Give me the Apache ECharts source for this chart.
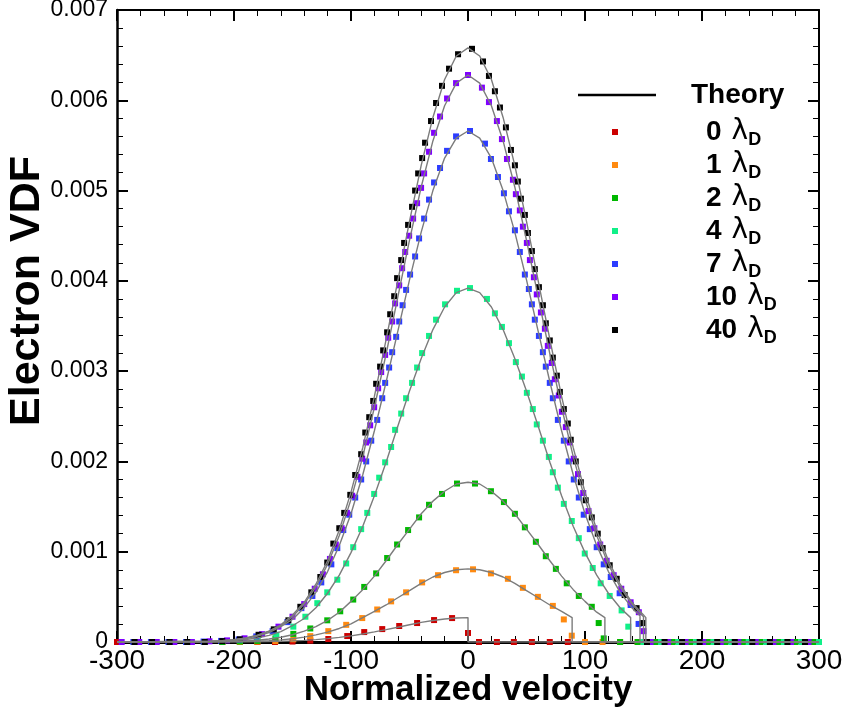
<!DOCTYPE html>
<html><head><meta charset="utf-8">
<script src="https://cdn.jsdelivr.net/npm/echarts/dist/echarts.min.js"></script>
<style>html,body{margin:0;padding:0;background:#fff}#c{width:846px;height:714px}</style>
</head><body><div id="c"></div>
<script>
// values in units of 1e-3 (converted when building the series)
const UNIT = 1e-3;
const seriesNames = ['0', '1', '2', '4', '7', '10', '40'];
const seriesColors = ['#cc0000', '#ff8a10', '#00b800', '#10f088', '#2c3cff', '#8000ff', '#000000'];

// theory curves: velocity grid and values (e-3)
const theoryV = [-220,-210,-200,-190,-180,-170,-160,-150,-140,-130,-120,-110,-100,-90,-80,-70,-60,-50,-40,-30,-20,-10,0,10,20,30,40,50,60,70,80,90,100,110,120,130,140,150];
const theory0  = [0.0003,0.0006,0.001,0.002,0.003,0.005,0.008,0.012,0.018,0.026,0.037,0.051,0.068,0.088,0.112,0.137,0.164,0.191,0.217,0.238,0.255,0.266,0.27];
const theory1  = [0.001,0.002,0.003,0.006,0.009,0.015,0.024,0.036,0.054,0.079,0.11,0.15,0.20,0.27,0.34,0.41,0.49,0.57,0.65,0.72,0.77,0.80,0.81,0.80,0.77,0.72,0.65,0.57,0.49,0.41,0.34];
const theory2  = [0.002,0.004,0.007,0.012,0.020,0.033,0.052,0.08,0.12,0.17,0.24,0.33,0.45,0.58,0.73,0.90,1.08,1.25,1.42,1.56,1.67,1.75,1.77,1.75,1.67,1.56,1.42,1.25,1.08,0.90,0.73,0.58,0.45,0.33];
const theory4  = [0.005,0.009,0.016,0.027,0.045,0.073,0.115,0.18,0.26,0.38,0.54,0.74,0.99,1.28,1.62,1.99,2.39,2.78,3.14,3.46,3.71,3.87,3.92,3.87,3.71,3.46,3.14,2.78,2.39,1.99,1.62,1.28,0.99,0.74,0.54,0.38];
const theory7  = [0.007,0.013,0.023,0.039,0.065,0.105,0.17,0.25,0.38,0.55,0.78,1.07,1.42,1.85,2.34,2.88,3.44,4.01,4.54,5.00,5.36,5.58,5.66,5.58,5.36,5.00,4.54,4.01,3.44,2.88,2.34,1.85,1.42,1.07,0.78,0.55,0.38];
const theory10 = [0.008,0.014,0.025,0.043,0.072,0.12,0.18,0.28,0.42,0.61,0.86,1.18,1.58,2.05,2.60,3.19,3.82,4.45,5.04,5.55,5.94,6.19,6.28,6.19,5.94,5.55,5.04,4.45,3.82,3.19,2.60,2.05,1.58,1.18,0.86,0.61,0.42,0.28];
const theory40 = [0.008,0.015,0.026,0.045,0.075,0.12,0.19,0.30,0.44,0.64,0.90,1.24,1.66,2.15,2.72,3.35,4.00,4.66,5.28,5.81,6.23,6.49,6.58,6.49,6.23,5.81,5.28,4.66,4.00,3.35,2.72,2.15,1.66,1.24,0.90,0.64,0.44,0.30];
const cutV = [0, 89, 117, 139, 147, 150, 152];
const cutF = [0.27, 0.27, 0.27, 0.27, 0.29, 0.28, 0.27];

// simulation markers [velocity, VDF e-3]
const sim0 = [[-300,0],[-285,0],[-270,0],[-255,0],[-240,0],[-225,0],[-210,0],[-195,0],[-180,0],[-165,0],[-150,0.005],[-134.8,0.015],[-119.4,0.033],[-103.2,0.066],[-88.7,0.11],[-73.3,0.143],[-58.8,0.177],[-43.5,0.21],[-29,0.243],[-13.6,0.265],[0,0.10],[9.4,0],[24.7,0],[39.2,0],[54.6,0],[69.9,0],[85.3,0]];
const sim1 = [[-285,0],[-270,0],[-255,0],[-240,0],[-225,0],[-210,0],[-195,0],[-180,0.003],[-164.6,0.01],[-149.3,0.03],[-134.8,0.065],[-119.4,0.12],[-104.1,0.19],[-90.4,0.265],[-77.6,0.36],[-65.7,0.45],[-52.9,0.55],[-39.2,0.66],[-25.6,0.74],[-10.2,0.795],[4.3,0.805],[19.6,0.76],[34.1,0.70],[46.9,0.60],[59.7,0.50],[72.5,0.40],[81.9,0.25],[88.7,0.07],[100,0],[115,0],[130,0],[145,0]];
const sim2 = [[-285,0],[-270,0],[-255,0],[-240,0],[-225,0],[-210,0],[-195,0.005],[-180,0.012],[-164.6,0.04],[-149.3,0.09],[-134.8,0.15],[-120.3,0.24],[-109.2,0.34],[-98.1,0.47],[-88.7,0.61],[-78.5,0.76],[-69.1,0.93],[-60.6,1.08],[-51.2,1.24],[-41.8,1.38],[-33.3,1.52],[-22.2,1.64],[-9.4,1.755],[6,1.755],[19.6,1.67],[30.7,1.55],[40.1,1.42],[48.6,1.27],[58,1.11],[66.5,0.95],[75.1,0.81],[84.4,0.65],[94.7,0.51],[105.8,0.39],[111.7,0.21],[116,0.04],[130,0],[145,0],[160,0],[175,0],[190,0],[205,0],[220,0],[235,0],[250,0],[265,0],[280,0],[295,0]];
const sim4 = [[-285,0],[-270,0],[-255,0],[-240,0],[-225,0],[-210,0.01],[-195,0.02],[-180,0.04],[-163.8,0.08],[-149.3,0.17],[-139,0.28],[-128.8,0.43],[-120.3,0.55],[-111.7,0.69],[-104.1,0.87],[-98.1,1.05],[-91.3,1.25],[-86.1,1.43],[-80.2,1.64],[-75.9,1.82],[-70.8,1.99],[-65.7,2.16],[-62.3,2.35],[-57.1,2.53],[-52.9,2.70],[-47.8,2.87],[-43.5,3.04],[-39.2,3.20],[-33.3,3.39],[-27.3,3.57],[-19.6,3.74],[-9.4,3.89],[1.7,3.92],[16.2,3.80],[23,3.64],[29,3.49],[35,3.31],[40.9,3.10],[46.1,2.94],[50.3,2.76],[55.4,2.58],[58.8,2.41],[64,2.23],[69.1,2.05],[72.5,1.88],[76.8,1.71],[81.9,1.53],[88.7,1.34],[94.7,1.15],[99.8,0.98],[106.6,0.82],[113.4,0.65],[121.1,0.51],[131.3,0.35],[137,0.17],[150,0],[165,0],[180,0],[195,0],[210,0],[225,0],[240,0],[255,0],[270,0],[285,0],[300,0]];
const sim7 = [[-286,0],[-271,0],[-256,0],[-241,0],[-226,0.005],[-211,0.012],[-196,0.028],[-181,0.062],[-167,0.12],[-154.4,0.22],[-142.4,0.375],[-133,0.51],[-125.4,0.66],[-116.8,0.86],[-111.7,1.04],[-106.6,1.24],[-101.5,1.41],[-96.4,1.60],[-91.3,1.80],[-87,2.00],[-82.7,2.23],[-77.6,2.46],[-73.3,2.70],[-70.8,2.87],[-67.4,3.04],[-64.8,3.21],[-61.4,3.38],[-58.8,3.55],[-55.9,3.73],[-52.9,3.90],[-49.5,4.07],[-45.2,4.27],[-41.8,4.47],[-37.5,4.69],[-33.3,4.90],[-29,5.09],[-23.9,5.25],[-17.9,5.44],[-10.2,5.60],[1.7,5.66],[14.5,5.52],[19.6,5.35],[25.6,5.15],[30.7,4.97],[35,4.77],[40.1,4.56],[44.3,4.32],[48.6,4.07],[52,3.91],[54.6,3.74],[57.1,3.57],[60.6,3.39],[64,3.21],[66.5,3.05],[69.9,2.87],[72.5,2.70],[76.8,2.46],[81.9,2.23],[86.1,2.00],[90.4,1.80],[94.7,1.60],[98.9,1.41],[104.1,1.25],[110,1.05],[116,0.86],[122,0.72],[129.6,0.54],[139,0.41],[145.8,0.20],[155,0],[170,0],[185,0],[200,0],[215,0],[230,0],[245,0],[260,0],[275,0],[290,0]];
const sim10 = [[-296,0],[-281,0],[-266,0],[-251,0],[-236,0],[-221,0.008],[-206,0.018],[-191,0.041],[-176,0.087],[-162,0.17],[-150,0.28],[-140,0.42],[-131,0.59],[-124,0.75],[-118,0.92],[-113,1.08],[-108,1.26],[-103.5,1.43],[-99,1.62],[-94.5,1.83],[-90.4,2.03],[-87,2.21],[-83.6,2.40],[-80.2,2.60],[-76.8,2.81],[-74.2,2.99],[-70.8,3.18],[-68.2,3.37],[-64.8,3.55],[-62.3,3.75],[-58.8,3.95],[-56.3,4.14],[-53.7,4.32],[-50.3,4.50],[-46.9,4.69],[-43.5,4.86],[-40.1,5.03],[-37.5,5.19],[-33.3,5.43],[-29,5.64],[-23.9,5.82],[-17.9,6.02],[-10.2,6.19],[0,6.28],[11.9,6.14],[17.9,5.98],[24.7,5.77],[29,5.57],[33.3,5.35],[38.4,5.12],[40.9,4.96],[44.3,4.78],[46.9,4.60],[50.3,4.42],[52.9,4.23],[56.3,4.04],[58.8,3.85],[62.3,3.65],[65.7,3.47],[68.2,3.28],[71.6,3.09],[74.2,2.91],[77.6,2.73],[80.2,2.55],[83.6,2.38],[87,2.21],[90.4,2.03],[94,1.86],[98.5,1.65],[103,1.45],[108,1.26],[113,1.08],[118.5,0.90],[124.5,0.74],[131,0.59],[139,0.44],[146,0.33],[150,0.12],[156,0],[171,0],[186,0],[201,0],[216,0],[231,0],[246,0],[261,0],[276,0],[291,0]];
const sim40 = [[-285,0],[-270,0],[-255,0],[-240,0],[-225,0],[-210,0.01],[-195,0.03],[-179,0.08],[-166,0.14],[-153.5,0.24],[-143.3,0.39],[-133.9,0.55],[-126.2,0.72],[-120.3,0.88],[-115.1,1.09],[-110,1.26],[-105.8,1.43],[-100.6,1.63],[-96.4,1.85],[-91.3,2.08],[-87.8,2.32],[-84.4,2.49],[-81,2.67],[-78.5,2.86],[-75.1,3.05],[-72.5,3.23],[-69.1,3.43],[-66.5,3.63],[-63.1,3.83],[-60.6,4.03],[-57.1,4.23],[-54.6,4.42],[-51.2,4.62],[-47.8,4.82],[-45.2,5.00],[-42.6,5.19],[-39.2,5.36],[-36.7,5.53],[-31.6,5.77],[-27.3,5.97],[-22.2,6.16],[-16.2,6.35],[-8.5,6.51],[3.4,6.57],[12.8,6.43],[17.9,6.27],[23,6.10],[27.3,5.92],[32.4,5.70],[36.7,5.45],[40.1,5.28],[42.6,5.10],[45.2,4.91],[48.6,4.73],[51.2,4.53],[54.6,4.33],[57.1,4.13],[60.6,3.93],[64,3.73],[66.5,3.53],[69.9,3.34],[72.5,3.15],[75.9,2.95],[78.5,2.77],[81.9,2.58],[85.3,2.42],[87.8,2.24],[92.1,2.00],[96.4,1.77],[100.6,1.57],[105.8,1.38],[110.9,1.20],[115.1,1.04],[121.1,0.85],[127.1,0.70],[133.9,0.52],[144.1,0.375],[149.3,0.21],[153,0],[168,0],[183,0],[198,0],[213,0],[228,0],[243,0],[258,0],[273,0],[288,0]];

const theories = [theory0, theory1, theory2, theory4, theory7, theory10, theory40];
const sims = [sim0, sim1, sim2, sim4, sim7, sim10, sim40];

// axis ranges and tick steps
const xMin = -300, xMax = 300, xStep = 100;
const yMin = 0, yMax = 0.007, yStep = 0.001;

const FONT = '"Liberation Sans", Arial, Helvetica, sans-serif';

function theoryData(vals, cut, fc) {
  const d = [[xMin, 0]];
  vals.forEach((f, i) => d.push([theoryV[i], f * UNIT]));
  d.push([cut, fc * UNIT], [cut, 0], [xMax, 0]);
  return d;
}

const series = [];
theories.forEach((t, i) => {
  series.push({
    type: 'line', data: theoryData(t, cutV[i], cutF[i]), showSymbol: false, symbol: 'none',
    lineStyle: { color: '#7c7c7c', width: 1.4 }, silent: true
  });
});
sims.forEach((s, i) => {
  series.push({
    type: 'scatter', name: seriesNames[i], data: s.map(p => [p[0], p[1] * UNIT]),
    symbol: 'rect', symbolSize: 6, itemStyle: { color: seriesColors[i], opacity: 1 }
  });
});

const legendRows = [132, 165, 198, 231, 264, 297, 330];
const graphic = [
  { type: 'line', shape: { x1: 578, y1: 95, x2: 656, y2: 95 }, style: { stroke: '#000', lineWidth: 2.5 } },
  { type: 'text', x: 691, y: 95, style: { text: 'Theory', font: 'bold 28px ' + FONT, fill: '#000', verticalAlign: 'middle' } },
  { type: 'text', x: 27, y: 291, rotation: Math.PI / 2,
    style: { text: 'Electron VDF', font: 'bold 43px ' + FONT, fill: '#000', align: 'center', verticalAlign: 'middle' } }
];
seriesNames.forEach((n, i) => {
  graphic.push({ type: 'rect', shape: { x: 612, y: legendRows[i] - 3, width: 6, height: 6 }, style: { fill: seriesColors[i] } });
  graphic.push({ type: 'text', x: 706, y: legendRows[i], style: {
    text: '{n|' + n + '}{l|λ}{s|D}', verticalAlign: 'middle', fill: '#000',
    rich: {
      n: { fontSize: 28, fontWeight: 'bold', fontFamily: FONT, fill: '#000' },
      l: { fontSize: 28, fontFamily: '"DejaVu Sans", ' + FONT, fill: '#000', padding: [0, 0, 0, 10] },
      s: { fontSize: 18, fontWeight: 'bold', fontFamily: FONT, fill: '#000', padding: [16, 0, 0, 0] }
    }
  } });
});

const tickStyle = { show: true, inside: true, length: 11, lineStyle: { color: '#000', width: 2 } };
const minorStyle = { show: true, splitNumber: 5, length: 6, lineStyle: { color: '#000', width: 1 } };

const option = {
  animation: false,
  grid: { left: 117, right: 27, top: 10, bottom: 72, outerBoundsMode: 'none' },
  xAxis: [
    { type: 'value', min: xMin, max: xMax, interval: xStep, position: 'bottom', splitLine: { show: false },
      axisLine: { show: true, onZero: false, lineStyle: { color: '#000', width: 3 } },
      axisTick: tickStyle, minorTick: minorStyle,
      name: 'Normalized velocity', nameLocation: 'middle', nameGap: 31, nameMoveOverlap: false,
      nameTextStyle: { fontSize: 35, fontWeight: 'bold', fontFamily: FONT, color: '#000' },
      axisLabel: { fontSize: 28, fontFamily: FONT, color: '#000', margin: 5 } },
    { type: 'value', min: xMin, max: xMax, interval: xStep, position: 'top', splitLine: { show: false },
      axisLine: { show: true, onZero: false, lineStyle: { color: '#000', width: 2 } },
      axisTick: tickStyle, minorTick: minorStyle, axisLabel: { show: false } }
  ],
  yAxis: [
    { type: 'value', min: yMin, max: yMax, interval: yStep, position: 'left', splitLine: { show: false },
      axisLine: { show: true, onZero: false, lineStyle: { color: '#000', width: 2.5 } },
      axisTick: tickStyle, minorTick: minorStyle,
      axisLabel: { fontSize: 23, fontFamily: FONT, color: '#000', margin: 9,
        formatter: v => (v === 0 ? '0' : v.toFixed(3)) } },
    { type: 'value', min: yMin, max: yMax, interval: yStep, position: 'right', splitLine: { show: false },
      axisLine: { show: true, onZero: false, lineStyle: { color: '#000', width: 2 } },
      axisTick: tickStyle, minorTick: minorStyle, axisLabel: { show: false } }
  ],
  graphic: graphic,
  series: series
};

const chart = echarts.init(document.getElementById('c'));
chart.setOption(option);
</script>
</body></html>
